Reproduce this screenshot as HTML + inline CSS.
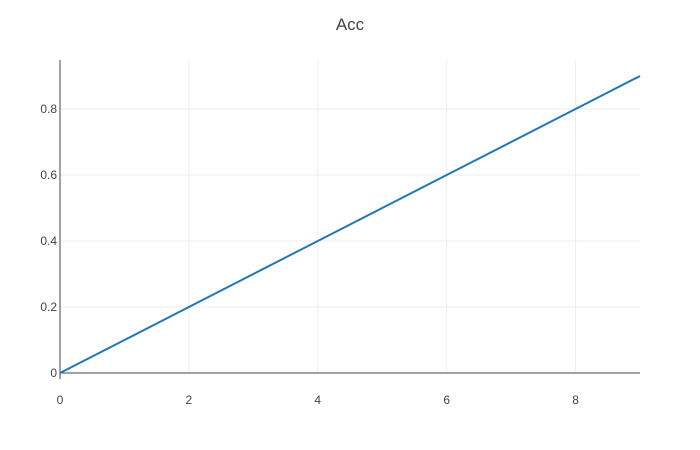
<!DOCTYPE html>
<html><head><meta charset="utf-8"><style>
body{margin:0;background:#fff;}
svg{display:block;font-family:"Liberation Sans",sans-serif;}
</style></head><body>
<svg id="chart" width="700" height="450" viewBox="0 0 700 450">
<text x="350" y="30" text-anchor="middle" font-size="17" fill="#444">Acc</text>
<g id="grid"></g><g id="axes"></g><g id="series"></g>
</svg>
<script>
const xValues=[0,1,2,3,4,5,6,7,8,9];
const yValues=[0,0.1,0.2,0.3,0.4,0.5,0.6,0.7,0.8,0.9];
const xTicks=[0,2,4,6,8];
const yTicks=[0,0.2,0.4,0.6,0.8];
const yTickLabels=["0","0.2","0.4","0.6","0.8"];
const L=60,R=640,T=60,B=373;
const xMin=0,xMax=9,yMin=0,yMax=0.9485;
function sx(v){return L+(v-xMin)/(xMax-xMin)*(R-L);}
function sy(v){return B-(v-yMin)/(yMax-yMin)*(B-T);}
const NS="http://www.w3.org/2000/svg";
function mk(tag,attrs,parent){const e=document.createElementNS(NS,tag);for(const k in attrs)e.setAttribute(k,attrs[k]);parent.appendChild(e);return e;}
const grid=document.getElementById('grid'),axes=document.getElementById('axes'),series=document.getElementById('series');
xTicks.forEach(t=>{
 if(t!==0){const g=mk('line',{x1:sx(t),x2:sx(t),y1:T,y2:B,stroke:'#eee','stroke-width':1},grid);
 
 }
 const tx=mk('text',{x:sx(t),y:B+31,'text-anchor':'middle','font-size':12,fill:'#444'},axes);
 tx.textContent=t;
 
 
});
yTicks.forEach((t,i)=>{
 if(t!==0){const g=mk('line',{x1:L,x2:R,y1:sy(t),y2:sy(t),stroke:'#eee','stroke-width':1},grid);
 
 }
 const tx=mk('text',{x:L-3,y:sy(t)+4,'text-anchor':'end','font-size':12,fill:'#444'},axes);
 tx.textContent=yTickLabels[i];
 
 
});
const xa=mk('line',{x1:L,x2:R,y1:sy(0),y2:sy(0),stroke:'#444','stroke-width':1},axes);


const ya=mk('line',{x1:L,x2:L,y1:T,y2:B+6,stroke:'#444','stroke-width':1},axes);


const pts=xValues.map((x,i)=>sx(x)+','+sy(yValues[i])).join(' ');
const pl=mk('polyline',{points:pts,fill:'none',stroke:'#1f77b4','stroke-width':2},series);


</script>
</body></html>
